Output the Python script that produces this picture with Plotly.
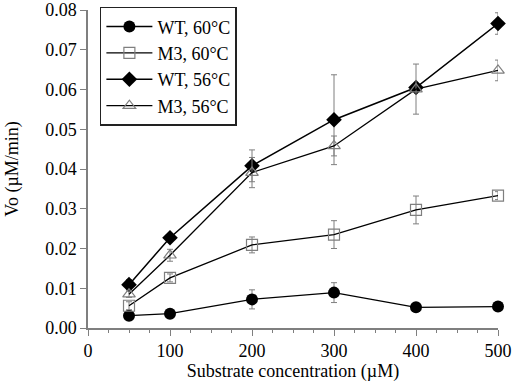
import plotly.graph_objects as go

x_vals = [50, 100, 200, 300, 400, 500]

wt60 = [0.0031, 0.0036, 0.0072, 0.0089, 0.0052, 0.0054]
wt60_err = [0.0010, 0.0005, 0.0024, 0.0025, 0.0004, 0.0004]

m3_60 = [0.0056, 0.0126, 0.0209, 0.0235, 0.0297, 0.0333]
m3_60_err = [0.0010, 0.0010, 0.0020, 0.0035, 0.0035, 0.0010]

wt56 = [0.0109, 0.0227, 0.0408, 0.0524, 0.0605, 0.0766]
wt56_err = [0.0013, 0.0006, 0.0040, 0.0113, 0.0010, 0.0027]

m3_56 = [0.0085, 0.0183, 0.0391, 0.0458, 0.0601, 0.0648]
m3_56_err = [0.0008, 0.0015, 0.0038, 0.0025, 0.0063, 0.0026]

series_names = ["WT, 60°C", "M3, 60°C", "WT, 56°C", "M3, 56°C"]

x_ticks = [0, 100, 200, 300, 400, 500]
y_ticks = [0.00, 0.01, 0.02, 0.03, 0.04, 0.05, 0.06, 0.07, 0.08]

FONT = "Liberation Serif, Times New Roman, serif"
GRAY = "#7f7f7f"

def err(arr):
    return dict(type="data", array=arr, visible=True, color=GRAY, thickness=1, width=3)

fig = go.Figure()
fig.add_trace(go.Scatter(x=x_vals, y=wt60, name=series_names[0], mode="lines+markers",
                         line=dict(color="black", width=1.3), error_y=err(wt60_err), cliponaxis=False,
                         marker=dict(symbol="circle", size=12, color="black")))
fig.add_trace(go.Scatter(x=x_vals, y=m3_60, name=series_names[1], mode="lines+markers",
                         line=dict(color="black", width=1.3), error_y=err(m3_60_err), cliponaxis=False,
                         marker=dict(symbol="square-open", size=11, color=GRAY, line=dict(width=1.2))))
fig.add_trace(go.Scatter(x=x_vals, y=wt56, name=series_names[2], mode="lines+markers",
                         line=dict(color="black", width=1.5), error_y=err(wt56_err), cliponaxis=False,
                         marker=dict(symbol="diamond", size=12, color="black")))
fig.add_trace(go.Scatter(x=x_vals, y=m3_56, name=series_names[3], mode="lines+markers",
                         line=dict(color="black", width=1.3), error_y=err(m3_56_err), cliponaxis=False,
                         marker=dict(symbol="triangle-up-open", size=11, color=GRAY, line=dict(width=1.2))))

fig.update_layout(
    width=514, height=386,
    margin=dict(l=88, r=16, t=10, b=58, autoexpand=False),
    plot_bgcolor="white", paper_bgcolor="white",
    font=dict(family=FONT, size=18, color="black"),
    showlegend=True,
    legend=dict(x=0.029, y=1.01, xanchor="left", yanchor="top",
                bordercolor="#222222", borderwidth=1.5, bgcolor="white",
                font=dict(family=FONT, size=18), tracegroupgap=0,
                itemwidth=46),
)
fig.update_xaxes(
    range=[0, 500], tickvals=x_ticks, ticktext=[str(v) for v in x_ticks],
    showline=True, linecolor=GRAY, linewidth=1.5, showgrid=False, zeroline=False,
    ticks="outside", ticklen=6, tickcolor=GRAY, tickwidth=1.2,
    minor=dict(dtick=25, ticks="outside", ticklen=3, tickcolor=GRAY, tickwidth=1),
    tickfont=dict(family=FONT, size=18), ticklabeloverflow="allow",
    title=dict(text="Substrate concentration (µM)", font=dict(family=FONT, size=18), standoff=4),
)
fig.update_yaxes(
    range=[0, 0.08], tickvals=y_ticks, ticktext=[f"{v:.2f}" for v in y_ticks],
    showline=True, linecolor=GRAY, linewidth=1.5, showgrid=False, zeroline=False,
    ticks="outside", ticklen=6, tickcolor=GRAY, tickwidth=1.2,
    tickfont=dict(family=FONT, size=18), ticklabeloverflow="allow",
    title=dict(text="Vo (µM/min)", font=dict(family=FONT, size=18), standoff=22),
)

fig.write_html("out.html", config={"displayModeBar": False},
               post_script="document.body.style.margin='0';document.body.style.overflow='hidden';")
